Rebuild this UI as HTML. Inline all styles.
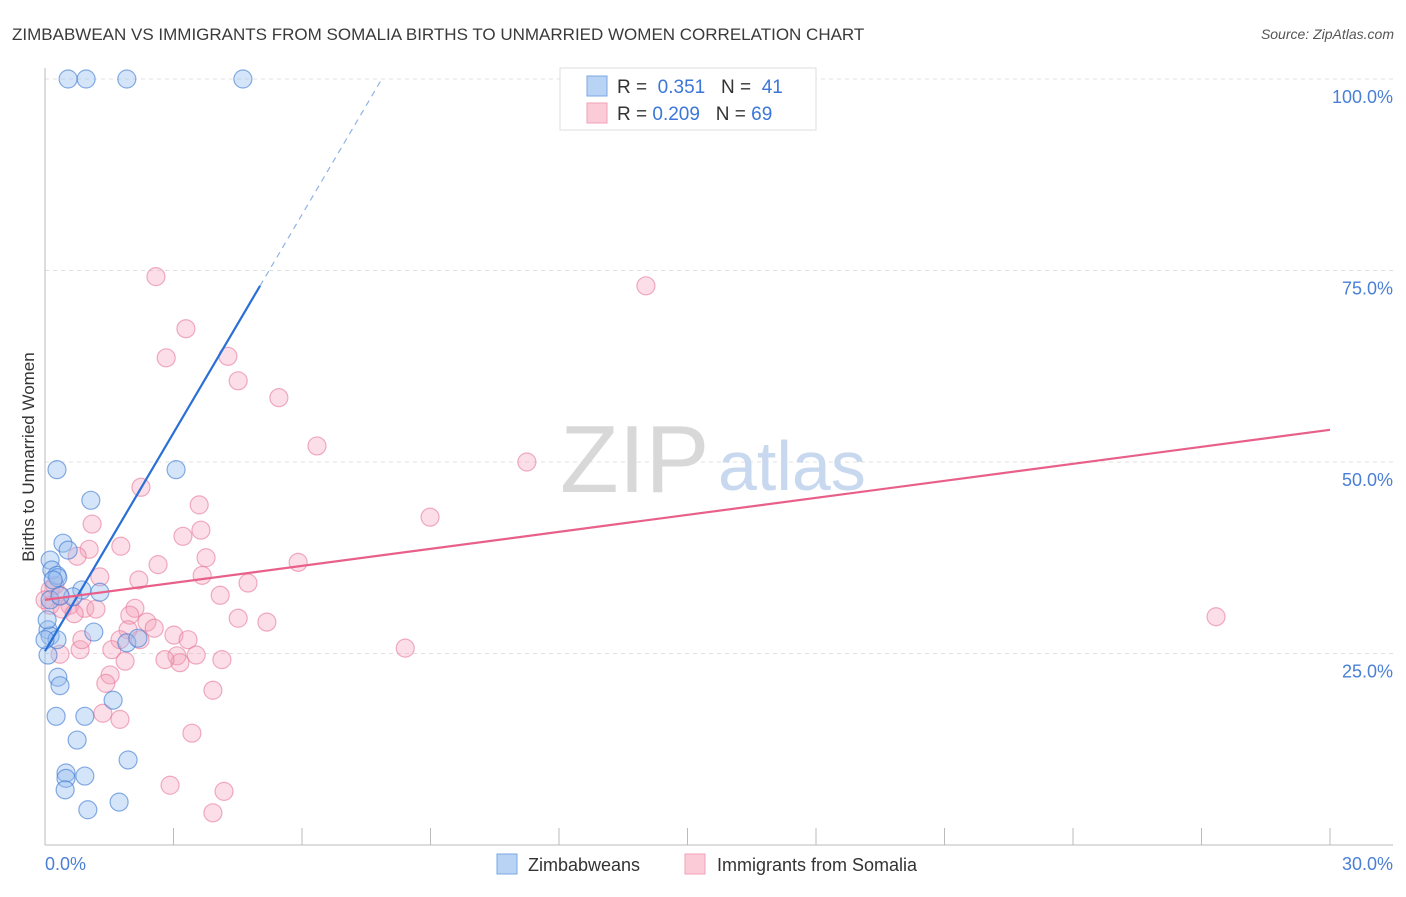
<!DOCTYPE html>
<html><head><meta charset="utf-8">
<style>
body{margin:0;background:#fff;font-family:"Liberation Sans",sans-serif;}
svg text{font-family:"Liberation Sans",sans-serif;}
</style></head>
<body>
<svg id="chart" width="1406" height="892">
<text x="12" y="40" font-size="17" fill="#3a3a3a">ZIMBABWEAN VS IMMIGRANTS FROM SOMALIA BIRTHS TO UNMARRIED WOMEN CORRELATION CHART</text>
<text x="1394" y="39" font-size="14" fill="#555" text-anchor="end" font-style="italic">Source: ZipAtlas.com</text>
<text x="34" y="457" font-size="17" fill="#333" text-anchor="middle" transform="rotate(-90 34 457)">Births to Unmarried Women</text>
<g id="grid"></g>
<g id="axes"></g>
<text x="560" y="492" font-size="96" fill="#d8d8d8" font-family="Liberation Serif">ZIP</text>
<text x="718" y="490" font-size="70" fill="#c8d8ee">atlas</text>
<g id="pts"></g>
<g id="trends"></g>
<g>
<rect x="560" y="68" width="256" height="62" fill="#fff" stroke="#ddd"/>
<rect x="587" y="76" width="20" height="20" fill="#b9d3f5" stroke="#7aa7e6"/>
<text x="617" y="93" font-size="19" fill="#333">R = <tspan fill="#3a77d8">&#160;0.351</tspan>&#160;&#160;&#160;N = <tspan fill="#3a77d8">&#160;41</tspan></text>
<rect x="587" y="103" width="20" height="20" fill="#fbcbd8" stroke="#f0a0b8"/>
<text x="617" y="120" font-size="19" fill="#333">R = <tspan fill="#3a77d8">0.209</tspan>&#160;&#160;&#160;N = <tspan fill="#3a77d8">69</tspan></text>
</g>
<g>
<rect x="497" y="854" width="20" height="20" fill="#b9d3f5" stroke="#7aa7e6"/>
<text x="528" y="871" font-size="18" fill="#333">Zimbabweans</text>
<rect x="685" y="854" width="20" height="20" fill="#fbcbd8" stroke="#f0a0b8"/>
<text x="717" y="871" font-size="18" fill="#333">Immigrants from Somalia</text>
</g>
</svg>
<script>
const yTicks=[25,50,75,100];
const yTickLabels=["25.0%","50.0%","75.0%","100.0%"];
const xTicks=[0,3,6,9,12,15,18,21,24,27,30];
const blueX=[0.54,0.96,1.91,4.62,0.28,3.06,1.07,0.42,0.54,0.12,0.16,0.28,0.30,0.86,1.28,0.65,0.07,0.12,0.28,1.14,1.91,2.17,0.07,0.30,0.35,0.26,0.93,1.59,0.75,1.94,0.49,0.49,0.93,0.47,1.73,1.00,0.12,0.05,0.19,0.35,0];
const blueY=[100,100,100,100,49.0,49.0,45.0,39.4,38.5,37.2,35.9,35.2,34.9,33.3,33.0,32.4,28.1,27.3,26.8,27.8,26.4,27.0,24.8,21.9,20.8,16.8,16.8,18.9,13.7,11.1,9.4,8.7,9.0,7.2,5.6,4.6,32.0,29.4,34.6,32.5,26.8];
const pinkX=[2.59,3.29,2.83,4.27,4.51,5.46,6.35,11.25,14.03,8.99,27.34,2.24,3.60,1.10,3.64,3.22,1.77,3.76,1.03,0.75,2.64,5.91,1.28,2.19,3.67,4.74,4.09,0.23,0.12,0.58,0.40,0.93,1.19,2.10,1.98,0.68,4.51,5.18,2.38,2.55,1.94,3.01,3.34,1.75,1.56,0.82,0.35,3.53,3.08,4.13,3.15,1.87,8.41,1.52,1.42,3.92,1.35,1.75,3.43,2.92,4.18,3.92,0.86,0.12,0.35,0,2.80,2.22];
const pinkY=[74.2,67.4,63.6,63.8,60.6,58.4,52.1,50.0,73.0,42.8,29.8,46.7,44.4,41.9,41.1,40.3,39.0,37.5,38.6,37.7,36.6,36.9,35.0,34.6,35.2,34.2,32.6,33.9,31.3,31.3,30.8,30.9,30.8,30.9,30.0,30.2,29.6,29.1,29.1,28.3,28.1,27.4,26.8,26.8,25.5,25.5,24.9,24.8,24.7,24.2,23.8,24.0,25.7,22.2,21.1,20.2,17.2,16.4,14.6,7.8,7.0,4.2,26.8,33.3,32.6,32.0,24.2,26.8];
const blueTrend=[25.3,9.5]; // intercept, slope
const pinkTrend=[32.0,0.74];
const NS="http://www.w3.org/2000/svg";
const X=v=>45+v/30*1285, Y=v=>845-v/100*766;
function mk(tag,attrs,parent){const e=document.createElementNS(NS,tag);for(const k in attrs)e.setAttribute(k,attrs[k]);parent.appendChild(e);return e;}
const grid=document.getElementById('grid'),axes=document.getElementById('axes'),pts=document.getElementById('pts'),tr=document.getElementById('trends');
yTicks.forEach((t,i)=>{
 const l=mk('line',{x1:45,x2:1393,y1:Y(t),y2:Y(t),stroke:'#e0e0e0','stroke-dasharray':'4 4'},grid);
 
 
 const tx=mk('text',{x:1393,y:Y(t)+24,'text-anchor':'end','font-size':18,fill:'#4a7fd6'},axes);
 tx.textContent=yTickLabels[i];
 
 
});
let a=mk('line',{x1:45,x2:45,y1:68,y2:845,stroke:'#bbb'},axes);


a=mk('line',{x1:45,x2:1393,y1:845,y2:845,stroke:'#bbb'},axes);


xTicks.forEach(t=>{const l=mk('line',{x1:X(t),x2:X(t),y1:828,y2:845,stroke:'#bbb'},axes);
 
 });
let t0=mk('text',{x:45,y:870,'font-size':18,fill:'#4a7fd6'},axes);t0.textContent='0.0%';


t0=mk('text',{x:1393,y:870,'font-size':18,fill:'#4a7fd6','text-anchor':'end'},axes);t0.textContent='30.0%';


pinkX.forEach((x,i)=>{const c=mk('circle',{cx:X(x),cy:Y(pinkY[i]),r:9,fill:'rgba(244,160,185,0.35)',stroke:'rgba(232,120,155,0.6)','stroke-width':1.2},pts);
 
 });
blueX.forEach((x,i)=>{const c=mk('circle',{cx:X(x),cy:Y(blueY[i]),r:9,fill:'rgba(150,190,240,0.4)',stroke:'rgba(60,120,210,0.6)','stroke-width':1.2},pts);
 
 });
const bx1=(73-blueTrend[0])/blueTrend[1], bx2=(100-blueTrend[0])/blueTrend[1];
let l=mk('line',{x1:X(0),y1:Y(blueTrend[0]),x2:X(bx1),y2:Y(blueTrend[0]+blueTrend[1]*bx1),stroke:'#2a6fd6','stroke-width':2.2},tr);


l=mk('line',{x1:X(bx1),y1:Y(blueTrend[0]+blueTrend[1]*bx1),x2:X(bx2),y2:Y(100),stroke:'#8fb3e6','stroke-width':1.2,'stroke-dasharray':'6 5'},tr);


l=mk('line',{x1:X(0),y1:Y(pinkTrend[0]),x2:X(30),y2:Y(pinkTrend[0]+pinkTrend[1]*30),stroke:'#e8608a','stroke-width':2.2},tr);


</script>
</body></html>
